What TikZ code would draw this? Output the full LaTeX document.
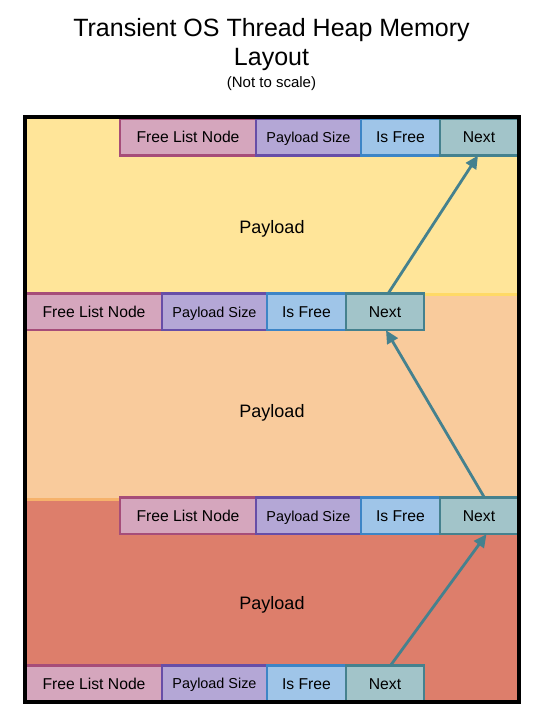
\documentclass[tikz,border=0pt]{standalone}
\usepackage{fontspec}
\setmainfont{Liberation Sans}
\usetikzlibrary{arrows.meta}

% palette
\definecolor{yelFill}{HTML}{FFE599}
\definecolor{yelLine}{HTML}{FFD966}
\definecolor{oraFill}{HTML}{F9CB9C}
\definecolor{oraLine}{HTML}{F6B26B}
\definecolor{redFill}{HTML}{DD7E6B}
\definecolor{magFill}{HTML}{D5A6BD}
\definecolor{magLine}{HTML}{A64D79}
\definecolor{purFill}{HTML}{B4A7D6}
\definecolor{purLine}{HTML}{674EA7}
\definecolor{bluFill}{HTML}{9FC5E8}
\definecolor{bluLine}{HTML}{3D85C6}
\definecolor{cyaFill}{HTML}{A2C4C9}
\definecolor{cyaLine}{HTML}{45818E}

\tikzset{
  region/.style={anchor=north west, inner sep=0, outer sep=0, minimum width=494pt},
  field/.style={draw, line width=2.5pt, inner sep=0, outer sep=0,
    minimum height=36.5pt, anchor=north west, text=black,
    text height=11.3pt, text depth=0pt,
    font=\fontsize{15.7}{18}\selectfont},
  flnbox/.style={field, fill=magFill, draw=magLine, minimum width=136pt},
  psbox/.style={field, fill=purFill, draw=purLine, minimum width=105pt,
    text height=10.4pt, font=\fontsize{14.4}{17}\selectfont},
  ifbox/.style={field, fill=bluFill, draw=bluLine, minimum width=79pt},
  nxbox/.style={field, fill=cyaFill, draw=cyaLine, minimum width=78pt},
  payload/.style={font=\fontsize{18}{21}\selectfont},
  link/.style={draw=cyaLine, line width=2.8pt, -{Triangle[length=13pt,width=12pt]}},
}

\begin{document}
\begin{tikzpicture}[x=1pt, y=-1pt]
\useasboundingbox (0,0) rectangle (545,719);

% title
\node[anchor=base, font=\fontsize{25}{30}\selectfont] (title1) at (271.5,36.5) {Transient OS Thread Heap Memory};
\node[anchor=base, font=\fontsize{25}{30}\selectfont] (title2) at (271.5,65.5) {Layout};
\node[anchor=base, font=\fontsize{15}{18}\selectfont] (subtitle) at (271.5,87.5) {(Not to scale)};

% heap regions, bottom first so each upper border lies on top
\node[region, fill=redFill, minimum height=203pt] (heapC) at (25,499.3) {};
\node[region, fill=oraFill, draw=oraLine, line width=3pt, minimum height=204.8pt] (heapB) at (25,294.5) {};
\node[region, fill=yelFill, draw=yelLine, line width=3pt, minimum height=177.5pt] (heapA) at (25,117) {};

% payload labels
\node[payload] (payA) at (272,228.5) {Payload};
\node[payload] (payB) at (272,412.5) {Payload};
\node[payload] (payC) at (272,604.5) {Payload};

% block headers
\node[flnbox] (f1) at (120,119) {Free List Node};
\node[psbox]  (p1) at (f1.north east) {Payload Size};
\node[ifbox]  (i1) at (p1.north east) {Is Free};
\node[nxbox]  (n1) at (i1.north east) {Next};

\node[flnbox] (f2) at (26,293.7) {Free List Node};
\node[psbox]  (p2) at (f2.north east) {Payload Size};
\node[ifbox]  (i2) at (p2.north east) {Is Free};
\node[nxbox]  (n2) at (i2.north east) {Next};

\node[flnbox] (f3) at (120,497.7) {Free List Node};
\node[psbox]  (p3) at (f3.north east) {Payload Size};
\node[ifbox]  (i3) at (p3.north east) {Is Free};
\node[nxbox]  (n3) at (i3.north east) {Next};

\node[flnbox] (f4) at (26,665.5) {Free List Node};
\node[psbox]  (p4) at (f4.north east) {Payload Size};
\node[ifbox]  (i4) at (p4.north east) {Is Free};
\node[nxbox]  (n4) at (i4.north east) {Next};

% heap frame
\node[draw=black, line width=3.5pt, anchor=north west, inner sep=0, outer sep=0,
  minimum width=494pt, minimum height=585pt] (frame) at (25,117) {};

% free list links
\draw[link] ([xshift=5.5pt]n4.north) -- ([xshift=7.5pt]n3.south);
\draw[link] ([xshift=5.5pt]n3.north) -- ([xshift=1pt]n2.south);
\draw[link] ([xshift=3pt]n2.north) -- ([xshift=-1pt]n1.south);
\end{tikzpicture}
\end{document}
